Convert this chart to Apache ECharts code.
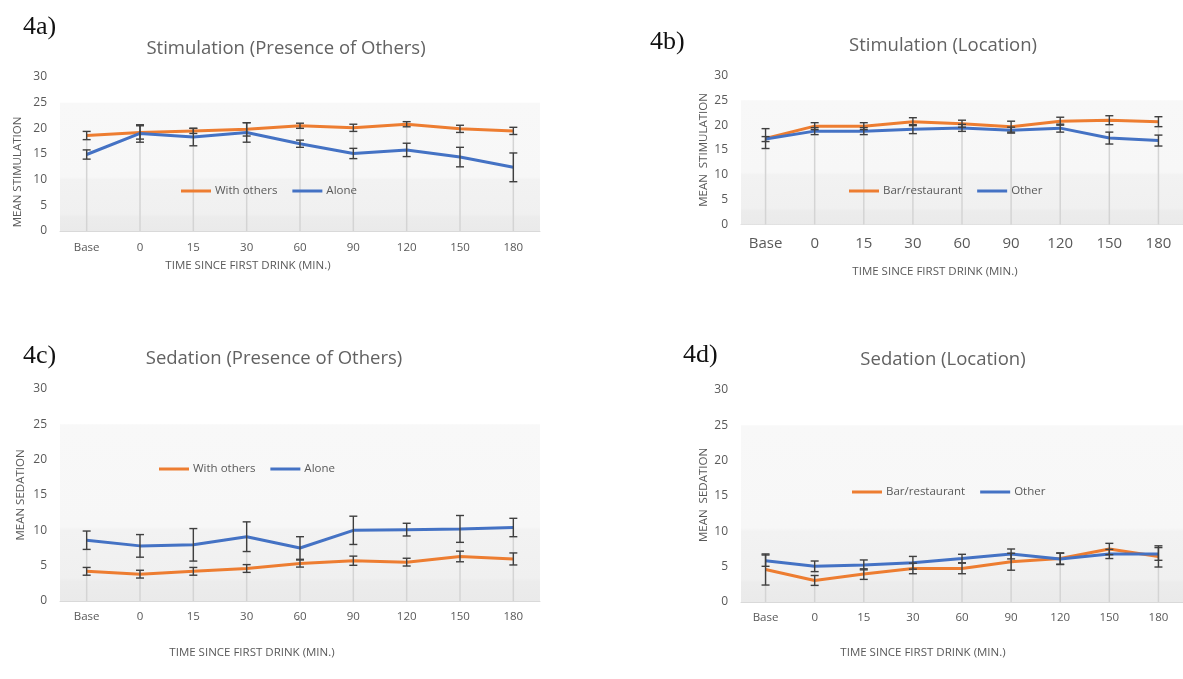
<!DOCTYPE html>
<html>
<head>
<meta charset="utf-8">
<script src="https://cdn.jsdelivr.net/npm/echarts@6/dist/echarts.min.js"></script>
<style>
  html, body { margin: 0; padding: 0; background: #ffffff; }
  #chart { width: 1183px; height: 679px; }
</style>
</head>
<body>
<div id="chart"></div>
<script>
// ---------- DATA ----------
const categories = ['Base', '0', '15', '30', '60', '90', '120', '150', '180'];
const yTicks = [0, 5, 10, 15, 20, 25, 30];

// 4a Stimulation (Presence of Others)
const stimOthersMean = [18.6, 19.2, 19.5, 19.8, 20.5, 20.1, 20.8, 19.9, 19.5];
const stimOthersErr  = [0.8, 1.3, 0.5, 1.3, 0.5, 0.7, 0.5, 0.7, 0.7];
const stimAloneMean  = [14.9, 19.0, 18.3, 19.2, 17.0, 15.1, 15.8, 14.4, 12.4];
const stimAloneErr   = [0.9, 1.7, 1.7, 1.9, 0.7, 1.0, 1.3, 1.9, 2.8];

// 4b Stimulation (Location)
const stimBarMean    = [17.3, 19.8, 19.8, 20.7, 20.3, 19.7, 20.8, 21.0, 20.7];
const stimBarErr     = [2.0, 0.7, 0.7, 0.8, 0.7, 1.1, 0.8, 0.9, 1.0];
const stimOtherMean  = [17.2, 18.8, 18.8, 19.2, 19.45, 19.0, 19.4, 17.4, 16.9];
const stimOtherErr   = [0.5, 0.7, 0.7, 0.9, 0.7, 0.6, 0.8, 1.2, 1.1];

// 4c Sedation (Presence of Others)
const sedOthersMean  = [4.2, 3.8, 4.2, 4.6, 5.3, 5.7, 5.5, 6.3, 5.95];
const sedOthersErr   = [0.55, 0.55, 0.55, 0.55, 0.5, 0.65, 0.55, 0.75, 0.85];
const sedAloneMean   = [8.6, 7.8, 7.95, 9.1, 7.5, 10.0, 10.1, 10.2, 10.4];
const sedAloneErr    = [1.3, 1.6, 2.3, 2.1, 1.6, 2.0, 0.9, 1.9, 1.3];

// 4d Sedation (Location)
const sedBarMean     = [4.6, 3.05, 3.95, 4.75, 4.75, 5.7, 6.15, 7.5, 6.45];
const sedBarErr      = [2.2, 0.7, 0.75, 0.75, 0.75, 1.2, 0.8, 0.8, 1.5];
const sedOtherMean   = [5.85, 5.05, 5.25, 5.55, 6.15, 6.8, 6.1, 6.8, 6.8];
const sedOtherErr    = [0.8, 0.75, 0.7, 0.9, 0.6, 0.7, 0.8, 0.65, 0.9];

// ---------- STYLE ----------
const ORANGE = '#ED7D31';
const BLUE = '#4472C4';
const TXT = '#595959';
const SANS = '"Open Sans", "Noto Sans", sans-serif';
const SERIF = '"Liberation Serif", "DejaVu Serif", serif';

const panels = [
  { grid: { left: 60, top: 77, width: 480, height: 154 },
    names: ['With others', 'Alone'], means: [stimOthersMean, stimAloneMean], errs: [stimOthersErr, stimAloneErr],
    xFont: 11.5, yFont: 12, xMargin: 11, legend: { left: 181, top: 185 } },
  { grid: { left: 741, top: 75.5, width: 456, height: 149 },
    names: ['Bar/restaurant', 'Other'], means: [stimBarMean, stimOtherMean], errs: [stimBarErr, stimOtherErr],
    xFont: 15, yFont: 12, xMargin: 12, legend: { left: 849, top: 185 } },
  { grid: { left: 60, top: 389, width: 480, height: 212 },
    names: ['With others', 'Alone'], means: [sedOthersMean, sedAloneMean], errs: [sedOthersErr, sedAloneErr],
    xFont: 11.5, yFont: 12, xMargin: 10, legend: { left: 159, top: 463 } },
  { grid: { left: 741, top: 390, width: 456, height: 212 },
    names: ['Bar/restaurant', 'Other'], means: [sedBarMean, sedOtherMean], errs: [sedBarErr, sedOtherErr],
    xFont: 11.5, yFont: 12, xMargin: 10, legend: { left: 852, top: 486 } }
];

function errRender(params, api) {
  const i = api.value(0);
  const lo = api.coord([i, api.value(1)]);
  const hi = api.coord([i, api.value(2)]);
  const w = 4;
  const st = { stroke: '#3f3f3f', lineWidth: 1.4 };
  return { type: 'group', children: [
    { type: 'line', shape: { x1: hi[0], y1: hi[1], x2: lo[0], y2: lo[1] }, style: st },
    { type: 'line', shape: { x1: hi[0] - w, y1: hi[1], x2: hi[0] + w, y2: hi[1] }, style: st },
    { type: 'line', shape: { x1: lo[0] - w, y1: lo[1], x2: lo[0] + w, y2: lo[1] }, style: st }
  ]};
}
function dropRender(params, api) {
  const i = api.value(0);
  const top = api.coord([i, api.value(1)]);
  const bot = api.coord([i, 0]);
  return { type: 'line', shape: { x1: top[0], y1: top[1], x2: bot[0], y2: bot[1] },
           style: { stroke: '#d4d4d4', lineWidth: 1.5 } };
}

const grids = [], xAxes = [], yAxes = [], series = [], legends = [];
panels.forEach((p, k) => {
  grids.push(p.grid);
  xAxes.push({
    type: 'category', gridIndex: k, data: categories, boundaryGap: true,
    axisLine: { show: true, lineStyle: { color: '#d9d9d9', width: 1 } },
    axisTick: { show: false },
    axisLabel: { color: TXT, fontFamily: SANS, fontSize: p.xFont, margin: p.xMargin, interval: 0 },
    splitLine: { show: false }
  });
  yAxes.push({
    type: 'value', gridIndex: k, min: yTicks[0], max: yTicks[yTicks.length - 1], interval: yTicks[1] - yTicks[0],
    axisLine: { show: false }, axisTick: { show: false },
    axisLabel: { color: TXT, fontFamily: SANS, fontSize: p.yFont, margin: 13 },
    splitLine: { show: false }
  });
  // drop lines + plot background
  series.push({
    type: 'custom', xAxisIndex: k, yAxisIndex: k, silent: true, z: 1,
    renderItem: dropRender, encode: { x: 0, y: 1 },
    data: categories.map((c, i) => [i, Math.max(p.means[0][i], p.means[1][i])]),
    markArea: {
      silent: true,
      itemStyle: {
        color: new echarts.graphic.LinearGradient(0, 0, 0, 1, [
          { offset: 0, color: '#f8f8f8' },
          { offset: 0.58, color: '#f7f7f7' },
          { offset: 0.6, color: '#f2f2f2' },
          { offset: 0.87, color: '#f0f0f0' },
          { offset: 0.89, color: '#ececec' },
          { offset: 1, color: '#eaeaea' }
        ])
      },
      data: [[{ yAxis: 0 }, { yAxis: 25 }]]
    }
  });
  [0, 1].forEach(j => {
    const color = j === 0 ? ORANGE : BLUE;
    series.push({
      type: 'line', name: p.names[j], xAxisIndex: k, yAxisIndex: k, z: 3,
      data: p.means[j], showSymbol: false, symbol: 'none', smooth: false,
      color: color, lineStyle: { color: color, width: 3 }
    });
  });
  [0, 1].forEach(j => {
    series.push({
      type: 'custom', xAxisIndex: k, yAxisIndex: k, silent: true, z: 5,
      renderItem: errRender, encode: { x: 0, y: [1, 2] },
      data: categories.map((c, i) => [i, p.means[j][i] - p.errs[j][i], p.means[j][i] + p.errs[j][i]])
    });
  });
  legends.push({
    left: p.legend.left, top: p.legend.top, orient: 'horizontal', padding: 0,
    data: p.names.map(n => ({ name: n, icon: 'rect' })),
    itemWidth: 30, itemHeight: 3, itemGap: 15, selectedMode: false,
    textStyle: { color: TXT, fontFamily: SANS, fontSize: 11.5, padding: [0, 0, 0, -1] }
  });
});

function txt(x, y, text, font, size, color, align, rot) {
  return { type: 'text', x: x, y: y, rotation: rot || 0, silent: true, z: 10,
    style: { text: text, fill: color, fontFamily: font, fontSize: size, align: align || 'center', verticalAlign: 'middle' } };
}
const graphics = [
  txt(23, 27, '4a)', SERIF, 26, '#111', 'left'),
  txt(650, 42, '4b)', SERIF, 26, '#111', 'left'),
  txt(23, 356, '4c)', SERIF, 26, '#111', 'left'),
  txt(683, 355, '4d)', SERIF, 26, '#111', 'left'),
  txt(286, 49, 'Stimulation (Presence of Others)', SANS, 18.5, '#626262'),
  txt(943, 46, 'Stimulation (Location)', SANS, 18.5, '#626262'),
  txt(274, 359, 'Sedation (Presence of Others)', SANS, 18.5, '#626262'),
  txt(943, 360, 'Sedation (Location)', SANS, 18.5, '#626262'),
  txt(248, 266, 'TIME SINCE FIRST DRINK (MIN.)', SANS, 11.5, TXT),
  txt(935, 272, 'TIME SINCE FIRST DRINK (MIN.)', SANS, 11.5, TXT),
  txt(252, 653, 'TIME SINCE FIRST DRINK (MIN.)', SANS, 11.5, TXT),
  txt(923, 653, 'TIME SINCE FIRST DRINK (MIN.)', SANS, 11.5, TXT),
  txt(18, 172, 'MEAN STIMULATION', SANS, 11.5, TXT, 'center', Math.PI / 2),
  txt(704, 150, 'MEAN  STIMULATION', SANS, 11.5, TXT, 'center', Math.PI / 2),
  txt(21, 495, 'MEAN SEDATION', SANS, 11.5, TXT, 'center', Math.PI / 2),
  txt(704, 495, 'MEAN  SEDATION', SANS, 11.5, TXT, 'center', Math.PI / 2)
];

const chart = echarts.init(document.getElementById('chart'), null, { renderer: 'canvas' });
chart.setOption({
  animation: false,
  backgroundColor: '#ffffff',
  grid: grids, xAxis: xAxes, yAxis: yAxes,
  legend: legends,
  series: series,
  graphic: graphics
});
</script>
</body>
</html>
